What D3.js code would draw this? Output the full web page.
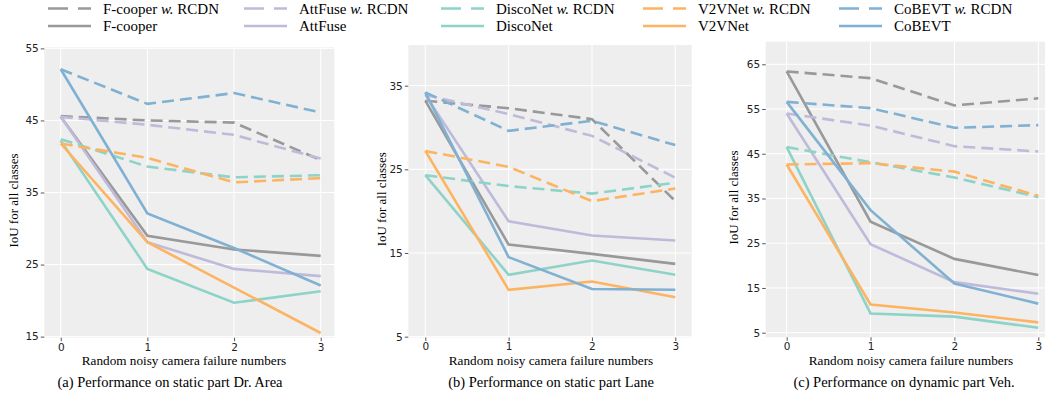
<!DOCTYPE html>
<html>
<head>
<meta charset="UTF-8">
<title>RCDN noisy camera failure</title>
<script src="https://d3js.org/d3.v7.min.js"></script>
<style>
  body { margin: 0; background: #fff; }
  svg text { fill: #000; }
</style>
</head>
<body>
<div class="canvas"></div>
<script>
  // data
  const xTicks = [0, 1, 2, 3];
  const methods = ['F-cooper', 'AttFuse', 'DiscoNet', 'V2VNet', 'CoBEVT'];
  const colors = ['#999999', '#bebada', '#8dd3c7', '#fdb462', '#80b1d3'];

  // (a) static part Dr. Area
  const areaRCDN = [
    [45.6, 45.0, 44.7, 39.5],
    [45.5, 44.4, 43.0, 39.7],
    [42.4, 38.6, 37.1, 37.4],
    [41.8, 39.8, 36.4, 37.0],
    [52.1, 47.3, 48.8, 46.1]
  ];
  const areaBase = [
    [45.5, 29.0, 27.1, 26.2],
    [45.5, 28.1, 24.4, 23.4],
    [42.2, 24.4, 19.7, 21.3],
    [41.8, 28.1, 21.8, 15.5],
    [52.1, 32.1, 27.3, 22.1]
  ];
  // (b) static part Lane
  const laneRCDN = [
    [33.2, 32.3, 31.0, 21.2],
    [33.9, 31.6, 29.0, 24.0],
    [24.3, 23.0, 22.1, 23.4],
    [27.2, 25.3, 21.2, 22.7],
    [34.2, 29.6, 30.8, 27.9]
  ];
  const laneBase = [
    [33.2, 16.0, 14.9, 13.7],
    [33.9, 18.8, 17.1, 16.5],
    [24.3, 12.4, 14.1, 12.4],
    [27.2, 10.6, 11.6, 9.7],
    [34.2, 14.5, 10.7, 10.6]
  ];
  // (c) dynamic part Veh.
  const vehRCDN = [
    [63.4, 61.9, 55.8, 57.4],
    [54.0, 51.3, 46.7, 45.5],
    [46.5, 43.1, 39.7, 35.3],
    [42.6, 42.9, 41.0, 35.6],
    [56.6, 55.2, 50.8, 51.4]
  ];
  const vehBase = [
    [63.4, 29.8, 21.5, 17.9],
    [54.0, 24.8, 16.3, 13.7],
    [46.5, 9.3, 8.6, 6.1],
    [42.6, 11.3, 9.5, 7.3],
    [56.6, 32.4, 16.0, 11.5]
  ];

  const yTicksArea = [15, 25, 35, 45, 55];
  const yTicksLane = [5, 15, 25, 35];
  const yTicksVeh = [5, 15, 25, 35, 45, 55, 65];

  const captions = [
    '(a) Performance on static part Dr. Area',
    '(b) Performance on static part Lane',
    '(c) Performance on dynamic part Veh.'
  ];

  const width = 1055, height = 396;
  const svg = d3.select('.canvas').append('svg')
    .attr('width', width).attr('height', height)
    .style('display', 'block');

  const serif = '"Liberation Serif", "Times New Roman", serif';
  const sans = '"DejaVu Sans", sans-serif';

  const panels = [
    { rcdn: areaRCDN, base: areaBase, yTicks: yTicksArea, box: [44.3, 334.3, 47.3, 337.7],
      xdom: [-0.19, 3.157], ydom: [14.85, 55.15], ylabX: 13.5, xlabX: 184, capX: 170 },
    { rcdn: laneRCDN, base: laneBase, yTicks: yTicksLane, box: [408.3, 691.7, 45, 337.5],
      xdom: [-0.204, 3.197], ydom: [4.9, 39.86], ylabX: 381.5, xlabX: 551, capX: 551 },
    { rcdn: vehRCDN, base: vehBase, yTicks: yTicksVeh, box: [765.7, 1045, 41.7, 337.3],
      xdom: [-0.25, 3.08], ydom: [3.97, 70.05], ylabX: 733, xlabX: 911, capX: 904 }
  ];

  panels.forEach((p, pi) => {
    const [l, r, t, b] = p.box;
    const x = d3.scaleLinear().domain(p.xdom).range([l, r]);
    const y = d3.scaleLinear().domain(p.ydom).range([b, t]);
    const g = svg.append('g');

    g.append('rect')
      .attr('x', l).attr('y', t)
      .attr('width', r - l).attr('height', b - t)
      .attr('fill', '#eeeeee');

    // grid
    g.selectAll('.gy').data(p.yTicks).enter().append('line')
      .attr('x1', l).attr('x2', r)
      .attr('y1', d => y(d)).attr('y2', d => y(d))
      .attr('stroke', '#fff').attr('stroke-width', 1);
    g.selectAll('.gx').data(xTicks).enter().append('line')
      .attr('x1', d => x(d)).attr('x2', d => x(d))
      .attr('y1', t).attr('y2', b)
      .attr('stroke', '#fff').attr('stroke-width', 1);

    // axes
    const yAxis = d3.axisLeft(y).tickValues(p.yTicks).tickFormat(d3.format('d')).tickSize(3.5).tickPadding(2);
    const xAxis = d3.axisBottom(x).tickValues(xTicks).tickFormat(d3.format('d')).tickSize(3.5).tickPadding(2);
    const ya = g.append('g').attr('transform', `translate(${l},0)`).call(yAxis);
    const xa = g.append('g').attr('transform', `translate(0,${b})`).call(xAxis);
    [ya, xa].forEach(a => {
      a.select('.domain').remove();
      a.selectAll('line').attr('stroke', '#555');
      a.selectAll('text').style('font-family', sans).style('font-size', '10.5px').style('fill', '#222');
    });

    // lines
    const line = d3.line().x((d, i) => x(xTicks[i])).y(d => y(d));
    methods.forEach((m, mi) => {
      g.append('path').datum(p.rcdn[mi])
        .attr('d', line).attr('fill', 'none')
        .attr('stroke', colors[mi]).attr('stroke-width', 2.6)
        .attr('stroke-dasharray', '12,6');
      g.append('path').datum(p.base[mi])
        .attr('d', line).attr('fill', 'none')
        .attr('stroke', colors[mi]).attr('stroke-width', 2.6);
    });

    // labels
    g.append('text')
      .attr('transform', `translate(${p.ylabX},${(t + b) / 2 + 8}) rotate(-90)`)
      .attr('text-anchor', 'middle').attr('dominant-baseline', 'central')
      .style('font-family', serif).style('font-size', '13px')
      .text('IoU for all classes');
    g.append('text')
      .attr('x', p.xlabX).attr('y', 365)
      .attr('text-anchor', 'middle')
      .style('font-family', serif).style('font-size', '13.2px')
      .text('Random noisy camera failure numbers');
    g.append('text')
      .attr('x', p.capX).attr('y', 387)
      .attr('text-anchor', 'middle')
      .style('font-family', serif).style('font-size', '14.5px')
      .text(captions[pi]);
  });

  // legend
  const legX = [48, 244, 441, 643, 839];
  const leg = svg.append('g');
  methods.forEach((m, mi) => {
    [0, 1].forEach(row => {
      const yy = row === 0 ? 8.5 : 26;
      leg.append('line')
        .attr('x1', legX[mi]).attr('x2', legX[mi] + 43)
        .attr('y1', yy).attr('y2', yy)
        .attr('stroke', colors[mi]).attr('stroke-width', 2.6)
        .attr('stroke-dasharray', row === 0 ? '20,10' : null);
      const tx = leg.append('text')
        .attr('x', legX[mi] + 55).attr('y', yy)
        .attr('dominant-baseline', 'central')
        .style('font-family', serif).style('font-size', '15px');
      tx.append('tspan').text(m);
      if (row === 0) {
        tx.append('tspan').text(' ');
        tx.append('tspan').style('font-style', 'italic').text('w.');
        tx.append('tspan').text(' RCDN');
      }
    });
  });
</script>
</body>
</html>
